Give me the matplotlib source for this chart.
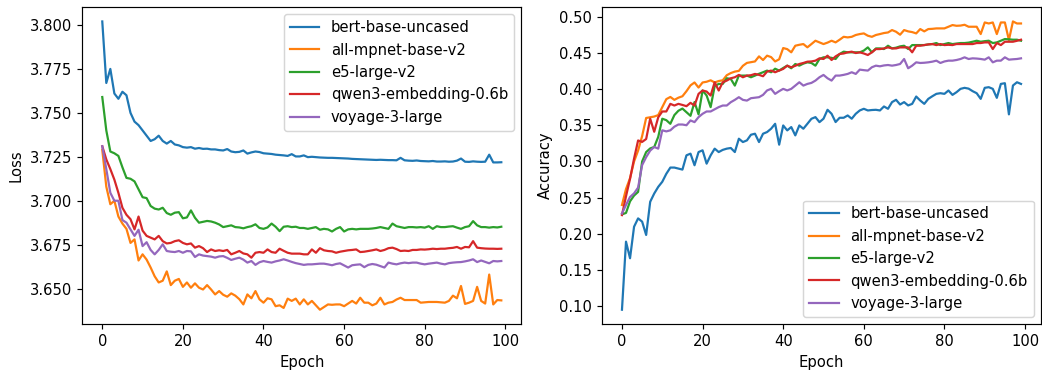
import matplotlib
matplotlib.use("Agg")
import matplotlib.pyplot as plt

# model names, same order in both panels
models = ["bert-base-uncased", "all-mpnet-base-v2", "e5-large-v2",
          "qwen3-embedding-0.6b", "voyage-3-large"]

epochs = list(range(100))

# ---- training loss per epoch ----
bert_loss = [
    3.802, 3.767, 3.775, 3.761, 3.758, 3.762, 3.760, 3.750, 3.745, 3.743,
    3.740, 3.737, 3.734, 3.735, 3.737, 3.734, 3.7325, 3.734, 3.732, 3.7315,
    3.7305, 3.7302, 3.7305, 3.7296, 3.730, 3.7295, 3.7296, 3.7292, 3.7292, 3.7288,
    3.7286, 3.7294, 3.728, 3.7276, 3.7278, 3.7286, 3.7268, 3.7275, 3.728, 3.7277,
    3.727, 3.7268, 3.7266, 3.7262, 3.726, 3.7258, 3.7255, 3.7265, 3.7252, 3.7252,
    3.7258, 3.7248, 3.725, 3.7248, 3.7246, 3.7245, 3.7244, 3.7244, 3.7243, 3.7242,
    3.7241, 3.724, 3.7238, 3.7237, 3.7236, 3.7235, 3.7234, 3.7233, 3.7232, 3.7233,
    3.7232, 3.7231, 3.7231, 3.723, 3.7244, 3.723, 3.7228, 3.7227, 3.7229, 3.7226,
    3.7225, 3.7224, 3.7226, 3.7223, 3.7223, 3.7224, 3.7222, 3.7223, 3.7228, 3.724,
    3.7222, 3.7221, 3.7224, 3.7222, 3.7221, 3.7222, 3.7262, 3.7218, 3.7218, 3.7219,
]
mpnet_loss = [
    3.729, 3.708, 3.698, 3.700, 3.691, 3.687, 3.684, 3.676, 3.678, 3.666,
    3.6695, 3.6665, 3.662, 3.657, 3.6535, 3.6545, 3.6598, 3.652, 3.6545, 3.6555,
    3.651, 3.6535, 3.6505, 3.653, 3.6505, 3.6495, 3.652, 3.6495, 3.6467, 3.6486,
    3.6465, 3.6454, 3.6473, 3.646, 3.644, 3.641, 3.6467, 3.6445, 3.6486, 3.6439,
    3.642, 3.6445, 3.6439, 3.640, 3.6405, 3.639, 3.6443, 3.643, 3.6443, 3.641,
    3.6439, 3.641, 3.643, 3.6405, 3.638, 3.6395, 3.641, 3.6408, 3.641, 3.641,
    3.640, 3.6415, 3.643, 3.6415, 3.6448, 3.642, 3.642, 3.6405, 3.6415, 3.6448,
    3.641, 3.642, 3.6424, 3.6438, 3.6448, 3.6435, 3.6435, 3.6435, 3.6435, 3.642,
    3.6422, 3.6424, 3.6424, 3.6424, 3.6422, 3.642, 3.643, 3.646, 3.6445, 3.6515,
    3.6413, 3.642, 3.643, 3.651, 3.643, 3.6415, 3.658, 3.641, 3.6435, 3.6433,
]
e5_loss = [
    3.759, 3.740, 3.728, 3.727, 3.7255, 3.719, 3.713, 3.7125, 3.711, 3.7065,
    3.702, 3.7015, 3.697, 3.6955, 3.695, 3.696, 3.693, 3.692, 3.6932, 3.6935,
    3.690, 3.6905, 3.6945, 3.6903, 3.6875, 3.688, 3.6885, 3.6882, 3.6875, 3.6865,
    3.685, 3.6855, 3.686, 3.685, 3.6848, 3.6843, 3.685, 3.6855, 3.6866, 3.6845,
    3.684, 3.6848, 3.687, 3.6852, 3.6827, 3.6852, 3.6855, 3.685, 3.6852, 3.6845,
    3.6845, 3.684, 3.6845, 3.685, 3.6835, 3.684, 3.6837, 3.6825, 3.684, 3.685,
    3.6825, 3.6837, 3.684, 3.6837, 3.684, 3.684, 3.684, 3.6842, 3.6845, 3.685,
    3.6845, 3.684, 3.687, 3.6855, 3.685, 3.6845, 3.685, 3.685, 3.6848, 3.685,
    3.6847, 3.6855, 3.684, 3.6855, 3.685, 3.685, 3.6853, 3.6855, 3.6847, 3.684,
    3.685, 3.6855, 3.6884, 3.686, 3.685, 3.685, 3.6847, 3.685, 3.6848, 3.6852,
]
qwen_loss = [
    3.731, 3.7235, 3.718, 3.712, 3.7045, 3.696, 3.692, 3.6895, 3.6837, 3.691,
    3.683, 3.680, 3.679, 3.678, 3.680, 3.677, 3.6757, 3.676, 3.677, 3.6775,
    3.676, 3.6752, 3.6757, 3.6733, 3.6742, 3.673, 3.6708, 3.6723, 3.6714, 3.6718,
    3.6714, 3.672, 3.6695, 3.6704, 3.6714, 3.670, 3.6695, 3.6676, 3.6704, 3.6708,
    3.6704, 3.6723, 3.6708, 3.6704, 3.6727, 3.6715, 3.6704, 3.6699, 3.6699, 3.6699,
    3.6695, 3.6695, 3.6723, 3.6704, 3.673, 3.6718, 3.6714, 3.6712, 3.6704, 3.671,
    3.6714, 3.6718, 3.672, 3.6723, 3.6708, 3.671, 3.6714, 3.6718, 3.6723, 3.6714,
    3.672, 3.673, 3.6733, 3.6725, 3.6714, 3.6716, 3.6714, 3.672, 3.672, 3.6723,
    3.6722, 3.6724, 3.6727, 3.6725, 3.6727, 3.6727, 3.673, 3.6732, 3.6737, 3.6727,
    3.6737, 3.6735, 3.677, 3.6733, 3.673, 3.6728, 3.6727, 3.6727, 3.6726, 3.6727,
]
voyage_loss = [
    3.731, 3.718, 3.7045, 3.700, 3.700, 3.689, 3.6875, 3.6837, 3.680, 3.6835,
    3.6742, 3.6764, 3.672, 3.6695, 3.672, 3.6752, 3.6714, 3.671, 3.6708, 3.6714,
    3.6704, 3.6714, 3.6712, 3.668, 3.6695, 3.6688, 3.6685, 3.6682, 3.6676, 3.6683,
    3.6685, 3.6675, 3.6663, 3.667, 3.6676, 3.6665, 3.6648, 3.6657, 3.6635, 3.665,
    3.6657, 3.6652, 3.6648, 3.6655, 3.666, 3.6667, 3.666, 3.6652, 3.6645, 3.664,
    3.6635, 3.6638, 3.6638, 3.664, 3.6642, 3.6642, 3.6638, 3.6633, 3.664, 3.6644,
    3.6632, 3.662, 3.6633, 3.6636, 3.6638, 3.6622, 3.6635, 3.664, 3.6636, 3.6628,
    3.662, 3.6648, 3.6642, 3.6638, 3.6644, 3.6648, 3.6645, 3.6648, 3.6648, 3.6642,
    3.6638, 3.6642, 3.6645, 3.6648, 3.6642, 3.6638, 3.6645, 3.6648, 3.665, 3.6651,
    3.6655, 3.666, 3.6667, 3.6651, 3.666, 3.6652, 3.6644, 3.6657, 3.6655, 3.6657,
]

# ---- validation accuracy per epoch ----
bert_acc = [
    0.0955, 0.1894, 0.1665, 0.210, 0.2215, 0.217, 0.1986, 0.2444, 0.2558, 0.265,
    0.272, 0.283, 0.2916, 0.2916, 0.2902, 0.2888, 0.3085, 0.3108, 0.2948, 0.313,
    0.3154, 0.297, 0.3085, 0.3177, 0.313, 0.316, 0.3177, 0.3186, 0.313, 0.3314,
    0.3268, 0.3291, 0.3369, 0.3383, 0.3268, 0.3383, 0.3406, 0.3452, 0.352, 0.3232,
    0.3497, 0.3429, 0.3475, 0.336, 0.3497, 0.3452, 0.352, 0.3589, 0.3612, 0.3543,
    0.359, 0.3713, 0.3658, 0.3544, 0.3603, 0.3603, 0.3635, 0.359, 0.3658, 0.3704,
    0.3727, 0.3704, 0.371, 0.3713, 0.3704, 0.3759, 0.3727, 0.3819, 0.3851, 0.3786,
    0.3819, 0.3773, 0.3795, 0.3896, 0.3841, 0.3795, 0.3864, 0.390, 0.3933, 0.3942,
    0.3933, 0.3979, 0.3919, 0.3956, 0.4002, 0.4016, 0.4005, 0.397, 0.3942, 0.3864,
    0.4016, 0.4025, 0.4002, 0.3878, 0.407, 0.408, 0.365, 0.4048, 0.4093, 0.407,
]
mpnet_acc = [
    0.240, 0.262, 0.277, 0.300, 0.315, 0.335, 0.360, 0.361, 0.362, 0.364,
    0.375, 0.386, 0.389, 0.385, 0.388, 0.390, 0.397, 0.405, 0.409, 0.402,
    0.409, 0.410, 0.412, 0.409, 0.411, 0.412, 0.419, 0.422, 0.424, 0.425,
    0.432, 0.436, 0.437, 0.438, 0.445, 0.440, 0.446, 0.444, 0.438, 0.441,
    0.4565, 0.455, 0.4506, 0.4597, 0.461, 0.462, 0.4575, 0.462, 0.4666, 0.4643,
    0.462, 0.464, 0.4666, 0.4643, 0.468, 0.472, 0.4712, 0.472, 0.4745, 0.4758,
    0.4767, 0.4735, 0.472, 0.4745, 0.4758, 0.4772, 0.478, 0.4813, 0.479, 0.4749,
    0.4813, 0.4795, 0.4785, 0.4767, 0.4827, 0.4795, 0.4827, 0.483, 0.4836, 0.4836,
    0.4836, 0.4859, 0.4882, 0.4872, 0.4875, 0.4886, 0.4859, 0.4859, 0.4859, 0.4758,
    0.4918, 0.4904, 0.4918, 0.4758, 0.4918, 0.4918, 0.4675, 0.4932, 0.4904, 0.4904,
]
e5_acc = [
    0.227, 0.229, 0.245, 0.253, 0.258, 0.300, 0.313, 0.318, 0.320, 0.334,
    0.359, 0.357, 0.352, 0.364, 0.370, 0.373, 0.368, 0.363, 0.382, 0.365,
    0.398, 0.391, 0.375, 0.404, 0.407, 0.407, 0.4148, 0.4139, 0.4047, 0.4185,
    0.4185, 0.4185, 0.4162, 0.4185, 0.421, 0.4231, 0.4254, 0.4231, 0.428, 0.4254,
    0.429, 0.4322, 0.4286, 0.4345, 0.4322, 0.435, 0.4368, 0.4359, 0.4322, 0.4414,
    0.4437, 0.4437, 0.443, 0.4414, 0.4483, 0.4515, 0.4506, 0.4506, 0.4506, 0.4506,
    0.453, 0.4574, 0.4506, 0.456, 0.456, 0.4551, 0.4597, 0.456, 0.457, 0.4588,
    0.4597, 0.4551, 0.4606, 0.4606, 0.4606, 0.4606, 0.4615, 0.462, 0.4634, 0.4606,
    0.462, 0.4634, 0.462, 0.4627, 0.4634, 0.4634, 0.464, 0.4652, 0.4666, 0.4652,
    0.466, 0.4666, 0.4634, 0.4643, 0.4666, 0.4689, 0.4685, 0.468, 0.468, 0.4666,
]
qwen_acc = [
    0.226, 0.252, 0.276, 0.304, 0.329, 0.327, 0.331, 0.359, 0.341, 0.361,
    0.369, 0.369, 0.3795, 0.3772, 0.3795, 0.378, 0.3763, 0.3809, 0.3772, 0.3933,
    0.3979, 0.3965, 0.391, 0.4093, 0.3979, 0.4093, 0.4116, 0.4148, 0.4162, 0.4194,
    0.4162, 0.4185, 0.419, 0.4208, 0.4195, 0.4176, 0.424, 0.4254, 0.4231, 0.4255,
    0.4277, 0.4322, 0.4299, 0.432, 0.4345, 0.4359, 0.4377, 0.438, 0.4391, 0.4423,
    0.4414, 0.446, 0.440, 0.445, 0.4483, 0.449, 0.4506, 0.4515, 0.4496, 0.4506,
    0.449, 0.4469, 0.4506, 0.4551, 0.4551, 0.456, 0.4574, 0.456, 0.456, 0.4574,
    0.4574, 0.4574, 0.4506, 0.4597, 0.4597, 0.4606, 0.4615, 0.462, 0.4606, 0.462,
    0.4606, 0.461, 0.4606, 0.462, 0.462, 0.462, 0.462, 0.462, 0.4634, 0.4634,
    0.4643, 0.4643, 0.4551, 0.4634, 0.4606, 0.4652, 0.4652, 0.4652, 0.4665, 0.468,
]
voyage_acc = [
    0.2283, 0.240, 0.251, 0.256, 0.264, 0.295, 0.306, 0.315, 0.320, 0.3177,
    0.343, 0.3415, 0.343, 0.348, 0.351, 0.351, 0.350, 0.3566, 0.3543, 0.3612,
    0.3658, 0.369, 0.369, 0.372, 0.375, 0.3772, 0.3772, 0.3818, 0.385, 0.3887,
    0.385, 0.384, 0.3873, 0.388, 0.3887, 0.3919, 0.398, 0.4002, 0.3933, 0.397,
    0.4002, 0.398, 0.4002, 0.4047, 0.4093, 0.4047, 0.407, 0.4084, 0.4116, 0.4162,
    0.4194, 0.4148, 0.4116, 0.4185, 0.4185, 0.4195, 0.4208, 0.4231, 0.4208, 0.4267,
    0.426, 0.4254, 0.430, 0.4322, 0.4313, 0.4325, 0.4331, 0.4322, 0.4331, 0.4345,
    0.4414, 0.4286, 0.4322, 0.4368, 0.4359, 0.4362, 0.4368, 0.4377, 0.4391, 0.4359,
    0.438, 0.4391, 0.4391, 0.440, 0.4414, 0.4437, 0.4414, 0.4423, 0.442, 0.4414,
    0.4405, 0.4437, 0.4368, 0.4391, 0.4391, 0.4437, 0.4405, 0.441, 0.4414, 0.4423,
]

loss_series = [bert_loss, mpnet_loss, e5_loss, qwen_loss, voyage_loss]
acc_series = [bert_acc, mpnet_acc, e5_acc, qwen_acc, voyage_acc]

# slightly higher dpi so text and lines come out a bit bigger, like the original
dpi = 106
fig, (ax1, ax2) = plt.subplots(1, 2, figsize=(1042 / dpi, 370 / dpi), dpi=dpi)
fig.subplots_adjust(left=0.079, right=0.999, bottom=0.124, top=0.981, wspace=0.184)

for name, ys in zip(models, loss_series):
    ax1.plot(epochs, ys, label=name)
ax1.set_xlabel("Epoch")
ax1.set_ylabel("Loss")
ax1.legend(loc="upper right")

for name, ys in zip(models, acc_series):
    ax2.plot(epochs, ys, label=name)
ax2.set_xlabel("Epoch")
ax2.set_ylabel("Accuracy")
ax2.legend(loc="lower right")

fig.savefig("out.png", dpi=dpi)
